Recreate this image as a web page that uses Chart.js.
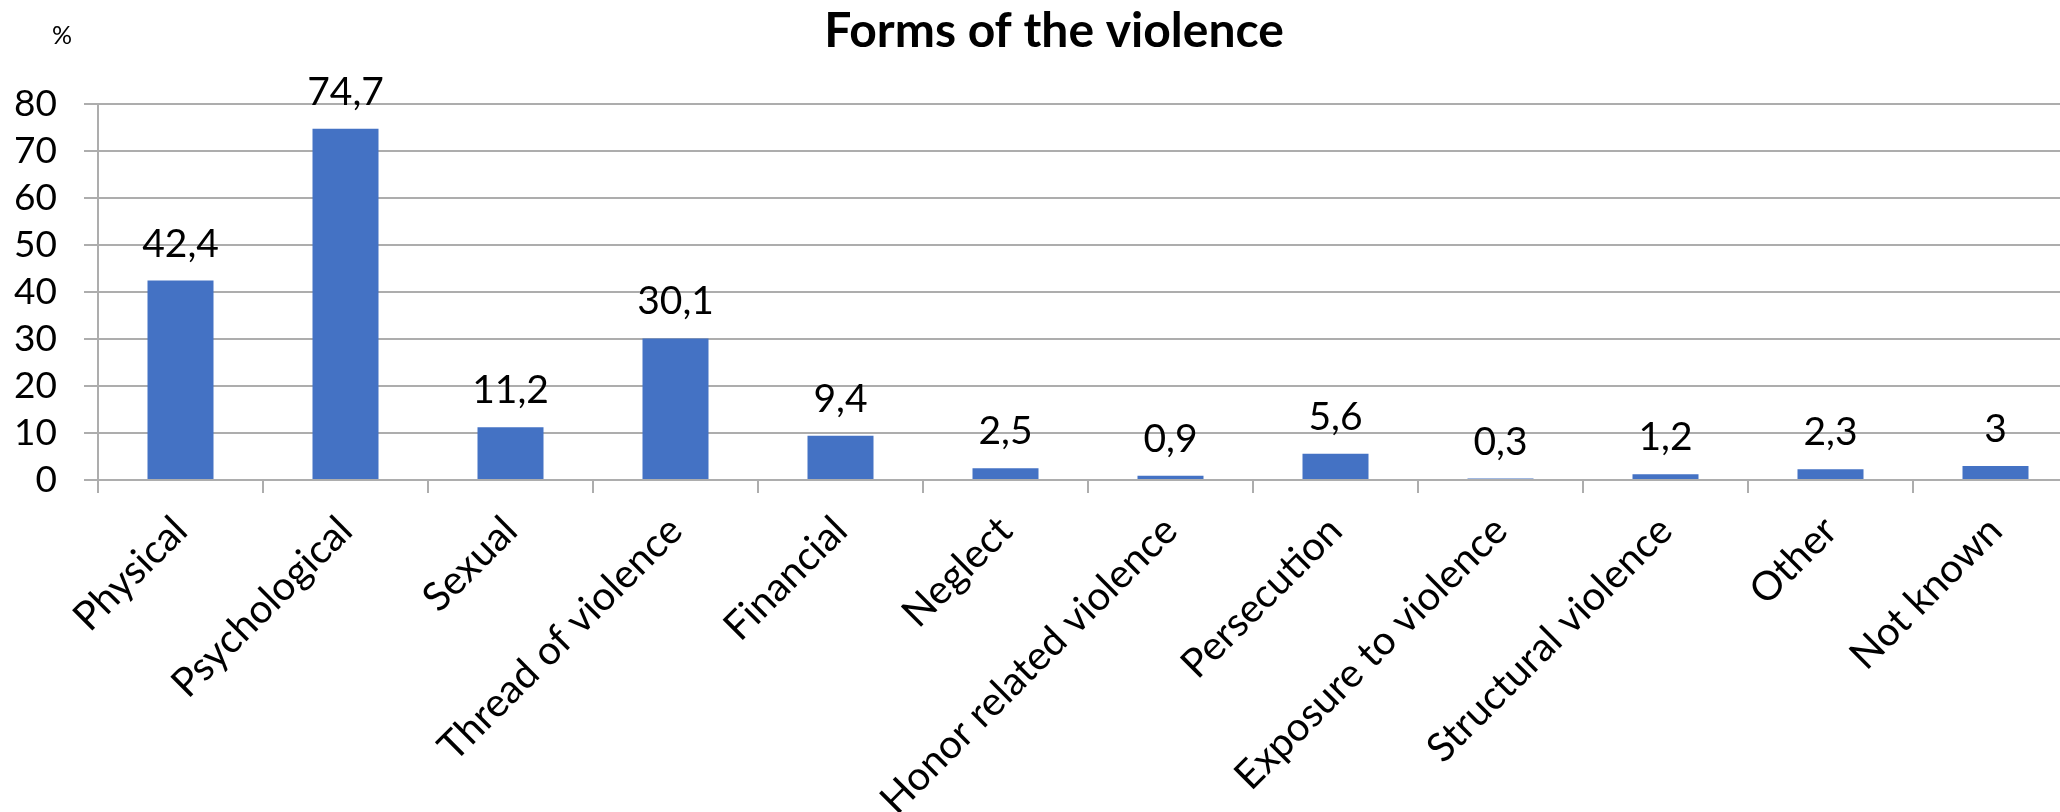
<!DOCTYPE html>
<html><head><meta charset="utf-8">
<script src="https://cdn.jsdelivr.net/npm/chart.js@4"></script>
<style>
html,body{margin:0;padding:0;background:#fff;overflow:hidden;}
#wrap{position:relative;width:2108px;height:812px;}
</style></head><body>
<div id="wrap"><canvas id="c"></canvas></div>
<script>
const categories = ["Physical","Psychological","Sexual","Thread of violence","Financial","Neglect","Honor related violence","Persecution","Exposure to violence","Structural violence","Other","Not known"];
const values = [42.4, 74.7, 11.2, 30.1, 9.4, 2.5, 0.9, 5.6, 0.3, 1.2, 2.3, 3];
const yTicks = [0, 10, 20, 30, 40, 50, 60, 70, 80];
const titleText = "Forms of the violence";
const unitText = "%";

const FONT = "Lato";
const GRID = "#adadad";
const fmt = v => String(v).replace(".", ",");

const valueLabelPlugin = {
  id: "valueLabels",
  afterDatasetsDraw(chart) {
    const ctx = chart.ctx;
    const meta = chart.getDatasetMeta(0);
    ctx.save();
    ctx.font = "39px " + FONT;
    ctx.fillStyle = "#000";
    ctx.textAlign = "center";
    ctx.textBaseline = "alphabetic";
    meta.data.forEach((bar, i) => {
      ctx.fillText(fmt(values[i]), bar.x, bar.y - 24);
    });
    ctx.restore();
  }
};

const unitPlugin = {
  id: "unitLabel",
  afterDraw(chart) {
    const ctx = chart.ctx;
    const ca = chart.chartArea;
    ctx.save();
    ctx.font = "25px " + FONT;
    ctx.fillStyle = "#000";
    ctx.textAlign = "center";
    ctx.textBaseline = "middle";
    ctx.fillText(unitText, ca.left - 36, ca.top - 68);
    ctx.restore();
  }
};

new Chart(document.getElementById("c"), {
  type: "bar",
  data: {
    labels: categories,
    datasets: [{
      data: values,
      backgroundColor: "#4472C4",
      borderWidth: 0,
      barPercentage: 0.4,
      categoryPercentage: 1.0
    }]
  },
  options: {
    responsive: true,
    maintainAspectRatio: false,
    animation: false,
    layout: { padding: 0 },
    plugins: {
      legend: { display: false },
      tooltip: { enabled: false },
      title: {
        display: true,
        text: titleText,
        color: "#000",
        font: { family: FONT, size: 48, weight: "bold" },
        padding: { top: 3, bottom: 43.1 }
      }
    },
    scales: {
      x: {
        grid: { offset: true, drawOnChartArea: false, drawTicks: true, tickLength: 13, color: GRID, lineWidth: 2 },
        border: { display: true, color: GRID, width: 2 },
        ticks: {
          autoSkip: false, minRotation: 45, maxRotation: 45,
          color: "#000", font: { family: FONT, size: 40 }, padding: 14
        },
        afterFit(scale) { scale.height = 332; }
      },
      y: {
        min: 0, max: 80,
        afterBuildTicks(scale) { scale.ticks = yTicks.map(v => ({ value: v })); },
        grid: { drawTicks: true, tickLength: 14, color: GRID, lineWidth: 2 },
        border: { display: true, color: GRID, width: 2 },
        ticks: { autoSkip: false, color: "#000", font: { family: FONT, size: 37 }, padding: 27 },
        afterFit(scale) { scale.width = 98; }
      },
      spacer: {
        type: "linear",
        position: "right",
        display: true,
        grid: { display: false, drawTicks: false },
        border: { display: false },
        ticks: { display: false },
        afterFit(scale) { scale.width = 30; }
      }
    }
  },
  plugins: [valueLabelPlugin, unitPlugin]
});
</script>
</body></html>
